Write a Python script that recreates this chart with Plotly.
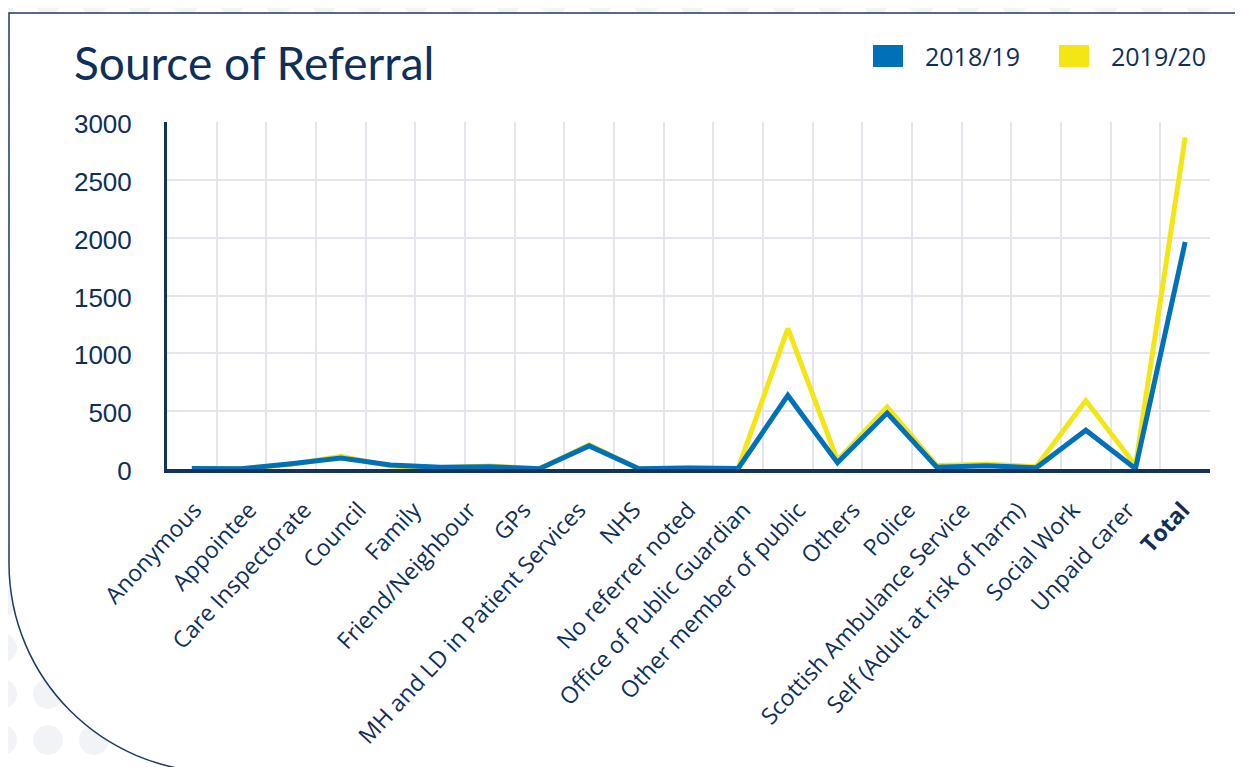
import plotly.graph_objects as go

# ---------------- data ----------------
categories = ["Anonymous", "Appointee", "Care Inspectorate", "Council", "Family",
              "Friend/Neighbour", "GPs", "MH and LD in Patient Services", "NHS",
              "No referrer noted", "Office of Public Guardian", "Other member of public",
              "Others", "Police", "Scottish Ambulance Service",
              "Self (Adult at risk of harm)", "Social Work", "Unpaid carer", "Total"]
# the plotted lines in the picture have 21 evenly spaced points
line_positions = list(range(21))
values_2018_19 = [5, 3, 45, 95, 35, 15, 20, 3, 200, 3, 8, 5, 636, 55, 484, 15, 28, 10, 335, 3, 1962]
values_2019_20 = [5, 3, 40, 110, 25, 10, 25, 3, 210, 3, 8, 5, 1215, 75, 536, 30, 42, 20, 592, 30, 2868]
series_names = ["2018/19", "2019/20"]
y_ticks = [0, 500, 1000, 1500, 2000, 2500, 3000]

BLUE = "#0071b9"
YELLOW = "#f4e514"
NAVY = "#0f2f5b"
GRID = "#e5e5ee"

PAGE_W, PAGE_H = 1243, 767
OFF = 8  # default page margin around the plot div
W, H = PAGE_W - OFF, PAGE_H - OFF
# plot area in page pixels
L, R, T, B = 167, 1210, 122, 469


def px(x):
    return (x - L) / (R - L)


def py(y):
    return (B - y) / (B - T)


fig = go.Figure()
fig.add_trace(go.Scatter(x=line_positions, y=values_2019_20, name=series_names[1], mode="lines",
                         line=dict(color=YELLOW, width=5), showlegend=False))
fig.add_trace(go.Scatter(x=line_positions, y=values_2018_19, name=series_names[0], mode="lines",
                         line=dict(color=BLUE, width=5), showlegend=False))
# helper (invisible) trace so the category label axis exists
fig.add_trace(go.Scatter(x=list(range(len(categories))), y=[None] * len(categories), xaxis="x2",
                         mode="lines", showlegend=False, hoverinfo="skip"))

shapes = []
# background dot pattern (decoration), only where it shows outside the card
CARD_L, CARD_T, CARD_B, CR = 9, 13, 772, 209
cx0, cy0 = CARD_L + CR, CARD_B - CR
for i in range(29):
    for j in range(18):
        cx = 2 + 46 * i
        cy = 740 - 46 * j
        r = 15 if (cy > 600 and cx < 120) else 12
        vis = (cy - r < CARD_T) or (cx - r < CARD_L)
        if cx < cx0 and cy > cy0:
            d = ((cx - cx0) ** 2 + (cy - cy0) ** 2) ** 0.5
            if d + r > CR:
                vis = True
        if vis:
            shapes.append(dict(type="circle", xref="paper", yref="paper", layer="below",
                               x0=px(cx - r), x1=px(cx + r), y0=py(cy + r), y1=py(cy - r),
                               fillcolor="#f2f3f6", line=dict(width=0)))
# card with rounded bottom-left corner
k = 0.5523 * CR
path = (f"M {px(CARD_L)},{py(CARD_T)} L {px(1300)},{py(CARD_T)} L {px(1300)},{py(CARD_B)} "
        f"L {px(CARD_L + CR)},{py(CARD_B)} "
        f"C {px(CARD_L + CR - k)},{py(CARD_B)} {px(CARD_L)},{py(CARD_B - CR + k)} {px(CARD_L)},{py(CARD_B - CR)} Z")
shapes.append(dict(type="path", path=path, xref="paper", yref="paper", layer="below",
                   fillcolor="white", line=dict(color="#1b3a66", width=1.5)))
# legend swatches
for x0, col in [(873, BLUE), (1059, YELLOW)]:
    shapes.append(dict(type="rect", xref="paper", yref="paper", layer="above",
                       x0=px(x0), x1=px(x0 + 30), y0=py(67), y1=py(45),
                       fillcolor=col, line=dict(width=0)))

annotations = [
    dict(text="Source of Referral", xref="paper", yref="paper", x=px(72), y=py(63),
         xanchor="left", yanchor="middle", showarrow=False,
         font=dict(family="Lato", size=46, color=NAVY)),
    dict(text=series_names[0], xref="paper", yref="paper", x=px(923), y=py(56),
         xanchor="left", yanchor="middle", showarrow=False,
         font=dict(family="Open Sans", size=25, color=NAVY)),
    dict(text=series_names[1], xref="paper", yref="paper", x=px(1109), y=py(56),
         xanchor="left", yanchor="middle", showarrow=False,
         font=dict(family="Open Sans", size=25, color=NAVY)),
]

ticktext = [c if c != "Total" else "<b>Total</b>" for c in categories]

fig.update_layout(
    width=W, height=H,
    margin=dict(l=L - OFF, r=PAGE_W - R, t=T - OFF, b=PAGE_H - B, pad=0),
    paper_bgcolor="white",
    plot_bgcolor="rgba(0,0,0,0)",
    showlegend=False,
    shapes=shapes,
    annotations=annotations,
    xaxis=dict(range=[-0.5, 20.5], tickmode="array",
               tickvals=[p + 0.5 for p in line_positions],
               showticklabels=False, ticks="", showgrid=True, gridcolor=GRID, gridwidth=1.5,
               zeroline=False, showline=True, linecolor="#13325c", linewidth=3.5,
               automargin=False, fixedrange=True),
    xaxis2=dict(overlaying="x", anchor="y", side="bottom", range=[-0.5, len(categories) - 0.5],
                tickmode="array", tickvals=list(range(len(categories))), ticktext=ticktext,
                tickangle=-47, ticks="", showgrid=False, zeroline=False, showline=False,
                tickfont=dict(family="Open Sans", size=23, color=NAVY),
                ticklabelstandoff=22, automargin=False),
    yaxis=dict(range=[0, 3000], tickmode="array", tickvals=y_ticks,
               showgrid=True, gridcolor=GRID, gridwidth=1.5, zeroline=False,
               showline=True, linecolor="#13325c", linewidth=3, ticks="",
               tickfont=dict(family="Liberation Sans", size=26, color=NAVY),
               ticklabelstandoff=27, ticklabelshift=2, automargin=False),
)

fig.write_html("out.html")
